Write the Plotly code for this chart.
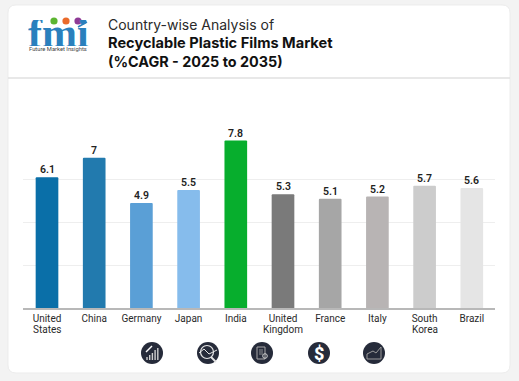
import plotly.graph_objects as go

categories = ["United States", "China", "Germany", "Japan", "India",
              "United Kingdom", "France", "Italy", "South Korea", "Brazil"]
tick_line1 = ["United", "China", "Germany", "Japan", "India",
              "United", "France", "Italy", "South", "Brazil"]
tick_line2 = ["States", "", "", "", "", "Kingdom", "", "", "Korea", ""]
cagr_values = [6.1, 7, 4.9, 5.5, 7.8, 5.3, 5.1, 5.2, 5.7, 5.6]
bar_colors = ["#0a6fa8", "#227aae", "#5a9fd6", "#86bcec", "#07ae2d",
              "#7a7a7a", "#a6a6a6", "#b8b4b4", "#cccccc", "#e5e5e5"]
y_ticks = [0, 2, 4, 6, 8]

W, H = 519, 381
def fx(px): return px / W
def fy(py): return 1 - py / H

fig = go.Figure(go.Bar(
    x=categories, y=cagr_values,
    marker=dict(color=bar_colors, cornerradius=1, line=dict(width=0)),
    cliponaxis=False, width=0.48,
))

shapes = []
def rect(x0, y0, x1, y1, **kw):
    shapes.append(dict(type="rect", xref="paper", yref="paper", x0=fx(x0), x1=fx(x1),
                       y0=fy(y1), y1=fy(y0), **kw))
def circle(cx, cy, r, **kw):
    shapes.append(dict(type="circle", xref="paper", yref="paper", x0=fx(cx-r), x1=fx(cx+r),
                       y0=fy(cy+r), y1=fy(cy-r), **kw))
def line(x0, y0, x1, y1, color="#d8d8d8", width=1):
    shapes.append(dict(type="line", xref="paper", yref="paper", x0=fx(x0), x1=fx(x1),
                       y0=fy(y0), y1=fy(y1), line=dict(color=color, width=width)))

# rounded card
r = 8
x0, x1, y0, y1 = 8, 510, 5, 373
P = lambda x, y: f"{fx(x):.5f},{fy(y):.5f}"
card = (f"M {P(x0+r,y0)} L {P(x1-r,y0)} Q {P(x1,y0)} {P(x1,y0+r)} L {P(x1,y1-r)} "
        f"Q {P(x1,y1)} {P(x1-r,y1)} L {P(x0+r,y1)} Q {P(x0,y1)} {P(x0,y1-r)} "
        f"L {P(x0,y0+r)} Q {P(x0,y0)} {P(x0+r,y0)} Z")
shapes.append(dict(type="path", xref="paper", yref="paper", path=card, fillcolor="#ffffff",
                   line=dict(color="#ececec", width=1), layer="below"))
line(8, 78, 510, 78, "#e0e0e0", 1.5)

# logo dots + swoosh
circle(54, 21, 3.6, fillcolor="#5cb531", line_width=0)
circle(66, 21, 3.6, fillcolor="#ea6a2a", line_width=0)
circle(78, 21, 3.6, fillcolor="#8e3a96", line_width=0)
line(78, 27, 87, 22, "#2a80bd", 1.5)

# footer icons
ICON = "#262b3a"
CY = 353
for cx in (152, 208, 262, 319, 374):
    circle(cx, CY, 11, fillcolor=ICON, line_width=0)
for i, h in enumerate((3, 5, 7, 10, 12)):
    line(147 + i*2.7, CY+7, 147 + i*2.7, CY+7 - h, "#cfcfcf", 1.4)
line(146, CY-1, 152, CY-7, "#ffffff", 1.4)
circle(207, CY-1, 6.5, line=dict(color="#e6e6e6", width=1.2))
line(199, CY, 204, CY-4, "#e6e6e6", 1)
line(204, CY-4, 209, CY+1, "#e6e6e6", 1)
line(209, CY+1, 217, CY-3, "#e6e6e6", 1)
line(211, CY+4, 216, CY+9, "#e6e6e6", 1.8)
rect(257, CY-6, 265, CY+6, line=dict(color="#a8a8a8", width=1))
for dy in (-3, -1, 1):
    line(259, CY+dy, 263, CY+dy, "#a8a8a8", 0.8)
circle(265, CY+3, 2.3, line=dict(color="#cfcfcf", width=1))
line(367, CY+6, 381, CY+6, "#9a9a9a", 1)
line(367, CY+6, 367, CY+1, "#9a9a9a", 1)
line(367, CY+1, 373, CY-2, "#9a9a9a", 1)
line(373, CY-2, 376, CY, "#9a9a9a", 1)
line(376, CY, 381, CY-6, "#9a9a9a", 1)
line(381, CY-6, 381, CY+6, "#9a9a9a", 1)

def note(x, y, text, size, color="#222222", font="Inter", weight=400, anchor="left", **kw):
    return dict(xref="paper", yref="paper", x=fx(x), y=fy(y), text=text, showarrow=False,
                xanchor=anchor, yanchor="middle",
                font=dict(family=font, size=size, color=color, weight=weight), **kw)

annotations = [
    note(106, 25, "Country-wise Analysis of", 14, "#2a2a2a"),
    note(106, 43, "Recyclable Plastic Films Market", 14.6, "#111111", weight=700),
    note(106, 61, "(%CAGR - 2025 to 2035)", 14.4, "#111111", weight=700),
    note(58, 33, "fmi", 42, "#2a80bd", "Liberation Serif", 700, "center", height=26),
    note(58, 49, "Future Market Insights", 5.8, "#444444", "Roboto", anchor="center"),
    note(319, 353, "$", 18, "#ffffff", "Roboto", 800, "center"),
]
for cat, second in zip(categories, tick_line2):
    if second:
        annotations.append(dict(xref="x", yref="paper", x=cat, y=fy(329), text=second,
                                showarrow=False, xanchor="center", yanchor="middle",
                                font=dict(family="Roboto", size=10, color="#2a2a2a")))
for cat, v in zip(categories, cagr_values):
    annotations.append(dict(xref="x", yref="y", x=cat, y=v, text=str(v), showarrow=False,
                            xanchor="center", yanchor="bottom", yshift=-1,
                            font=dict(family="Roboto", size=10.5, color="#222222", weight=600)))

fig.update_layout(
    width=W, height=H, margin=dict(l=0, r=0, t=0, b=0),
    paper_bgcolor="#f3f3f3", plot_bgcolor="rgba(0,0,0,0)",
    showlegend=False, shapes=shapes, annotations=annotations,
    font=dict(family="Roboto", size=10, color="#2a2a2a"),
    xaxis=dict(domain=[fx(23.4), fx(495.4)], tickfont=dict(size=10, color="#2a2a2a"),
               tickmode="array", tickvals=categories, ticktext=tick_line1,
               ticks="", showgrid=False, showline=True, linecolor="#b8b8b8", linewidth=1.5,
               tickangle=0, fixedrange=True, range=[-0.5, 9.5], ticklabelstandoff=0),
    yaxis=dict(domain=[fy(308.3), fy(136.3)], range=[0, 8], tickvals=y_ticks, showticklabels=False,
               gridcolor="#eeeeee", gridwidth=1, zeroline=False, fixedrange=True),
)
fig.write_html("out.html", config={"displayModeBar": False},
               post_script="document.body.style.margin='0';document.body.style.overflow='hidden';")
